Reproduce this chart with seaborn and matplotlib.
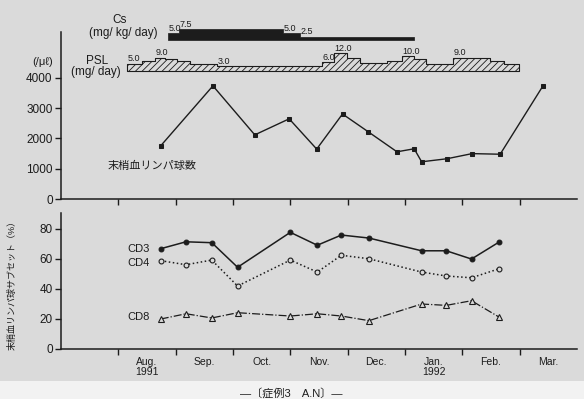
import numpy as np
import matplotlib
matplotlib.use("Agg")
import matplotlib.pyplot as plt
from matplotlib.patches import Rectangle
import seaborn as sns

# 月の位置: 0 = 1991年7月1日, 1 = 8月1日, ... 9 = 1992年4月1日
month_labels = ["Aug.\n1991", "Sep.", "Oct.", "Nov.", "Dec.", "Jan.\n1992", "Feb.", "Mar."]

# 末梢血リンパ球数 (/μl)
lymph_x = [1.74, 2.65, 3.38, 3.98, 4.46, 4.91, 5.36, 5.86, 6.16, 6.29, 6.73, 7.17, 7.66, 8.41]
lymph = [1760, 3740, 2120, 2650, 1650, 2810, 2220, 1560, 1660, 1230, 1330, 1500, 1480, 3750]

# リンパ球サブセット (%)
subset_x = [1.74, 2.18, 2.63, 3.08, 4.00, 4.47, 4.89, 5.37, 6.29, 6.72, 7.16, 7.64]
cd3 = [66.7, 71.3, 70.7, 54.3, 77.6, 69.0, 75.8, 73.8, 65.3, 65.3, 59.8, 71.1]
cd4 = [58.7, 56.0, 59.1, 41.8, 59.1, 51.1, 62.3, 60.0, 51.1, 48.5, 47.3, 53.3]
cd8 = [19.8, 23.3, 20.5, 24.0, 21.8, 23.3, 21.8, 18.7, 29.8, 28.9, 32.0, 21.1]

# 投薬 (Cs: mg/kg/day, PSL: mg/day)
cs_edges = [1.86, 2.05, 3.88, 4.17, 6.15]
cs_dose = [5.0, 7.5, 5.0, 2.5]
cs_labels = ["5.0", "7.5", "5.0", "2.5"]
psl_edges = [1.15, 1.41, 1.64, 1.81, 2.02, 2.25, 2.72, 4.55, 4.76, 4.99, 5.22,
             5.68, 5.94, 6.15, 6.37, 6.84, 7.48, 7.72, 7.98]
psl_dose = [5.0, 6.5, 9.0, 8.0, 7.0, 5.0, 3.0, 6.0, 12.0, 9.0, 5.5, 7.0, 10.0,
            8.0, 5.0, 9.0, 6.5, 5.0]
psl_label_idx = [0, 2, 6, 7, 8, 12, 15]

sns.set_style("ticks")
plt.rcParams['font.family'] = ['Liberation Sans', 'Noto Sans CJK JP', 'DejaVu Sans']
plt.rcParams['hatch.linewidth'] = 0.6
ink = '#1c1c1c'

W, H = 584, 399
fig = plt.figure(figsize=(W / 100, H / 100), dpi=100, facecolor='#dadada')
fig.patches.append(Rectangle((0, 0), 1, 18 / H, transform=fig.transFigure,
                             facecolor='#f2f2f2', edgecolor='none', zorder=0))


def fx(x):
    return x / W


def fy(y):
    return 1 - y / H


left, right = 61, 577
ax1 = fig.add_axes([fx(left), fy(199), fx(right - left), (199 - 32) / H])
ax2 = fig.add_axes([fx(left), fy(348.7), fx(right - left), (348.7 - 212.7) / H])
axd = fig.add_axes([fx(left), fy(76), fx(right - left), 56 / H], sharex=ax1)

for ax in (ax1, ax2):
    ax.set_facecolor('none')
    sns.despine(ax=ax)
    for s in ('left', 'bottom'):
        ax.spines[s].set_color(ink)
        ax.spines[s].set_linewidth(1.1)
    ax.set_xlim(0, 9)
    ax.set_xticks(range(1, 9))
    ax.tick_params(axis='both', direction='out', length=4, width=1, colors=ink,
                   labelsize=8.5, pad=2)
    ax.set_xlabel('')

# 上段: リンパ球数
sns.lineplot(x=lymph_x, y=lymph, ax=ax1, color=ink, linewidth=1, marker='s',
             markersize=3, markeredgecolor=ink)
ax1.set_ylim(0, 5520)
ax1.set_yticks([0, 1000, 2000, 3000, 4000])
ax1.set_xticklabels([])
ax1.set_ylabel('')
ax1.text(0.82, 1090, '末梢血リンパ球数', fontsize=8, ha='left', va='center', color=ink)
fig.text(fx(43), fy(62), '(/μℓ)', fontsize=8, ha='center', va='center', color=ink)

# 下段: サブセット
sns.lineplot(x=subset_x, y=cd3, ax=ax2, color=ink, linewidth=1.1, marker='o',
             markersize=3.5, markeredgecolor=ink)
sns.lineplot(x=subset_x, y=cd4, ax=ax2, color=ink, linewidth=1.1, linestyle=':',
             marker='o', markersize=3.5, markerfacecolor='#dadada',
             markeredgecolor=ink, markeredgewidth=0.8)
sns.lineplot(x=subset_x, y=cd8, ax=ax2, color=ink, linewidth=0.9, linestyle='-.',
             marker='^', markersize=5, markerfacecolor='#dadada',
             markeredgecolor=ink, markeredgewidth=0.8)
ax2.set_ylim(0, 90.7)
ax2.set_yticks([0, 20, 40, 60, 80])
ax2.set_ylabel('')
ax2.set_xticklabels([])
ax2.set_xticks(np.arange(1.5, 9, 1), minor=True)
ax2.set_xticklabels(month_labels, minor=True, fontsize=7.5, va='top',
                    linespacing=0.95)
ax2.tick_params(axis='x', which='minor', length=0, pad=6, colors=ink)
for name, yv in (('CD3', 66.8), ('CD4', 57.2), ('CD8', 21.0)):
    ax2.text(1.55, yv, name, fontsize=8, ha='right', va='center', color=ink)
fig.text(fx(12), fy(283), '末梢血リンパ球サブセット（%）', rotation=90,
         fontsize=6.5, ha='center', va='center', color=ink)

# 投薬バー
axd.set_ylim(0, 56)
axd.axis('off')
cs_base = 76 - 40.3
cs_top = [cs_base + 1.47 * d for d in cs_dose]
axd.fill_between(cs_edges, cs_base, cs_top + [cs_top[-1]], step='post',
                 facecolor=ink, edgecolor=ink, linewidth=0.5)
for i, lab in enumerate(cs_labels):
    axd.text(cs_edges[i] + 0.01, cs_top[i] + 0.4, lab, fontsize=6.5,
             ha='left', va='bottom', color=ink)

psl_base = 76 - 71.3
psl_top = [psl_base + 1.45 * d + 0.5 for d in psl_dose]
axd.fill_between(psl_edges, psl_base, psl_top + [psl_top[-1]], step='post',
                 facecolor='none', edgecolor=ink, linewidth=0.8, hatch='/////')
for i in psl_label_idx:
    axd.text(psl_edges[i] + 0.01, psl_top[i] + 0.5, f'{psl_dose[i]:.1f}',
             fontsize=6.5, ha='left', va='bottom', color=ink)

fig.text(fx(120), fy(20), 'Cs', fontsize=8.5, ha='center', va='center', color=ink)
fig.text(fx(123), fy(33), '(mg/ kg/ day)', fontsize=8.5, ha='center', va='center', color=ink)
fig.text(fx(97), fy(61), 'PSL', fontsize=8.5, ha='center', va='center', color=ink)
fig.text(fx(96), fy(72), '(mg/ day)', fontsize=8.5, ha='center', va='center', color=ink)

fig.text(fx(291), fy(393), '—〔症例3　A.N〕—', fontsize=8, ha='center',
         va='center', color=ink)

fig.savefig('out.png', dpi=100, facecolor=fig.get_facecolor())
